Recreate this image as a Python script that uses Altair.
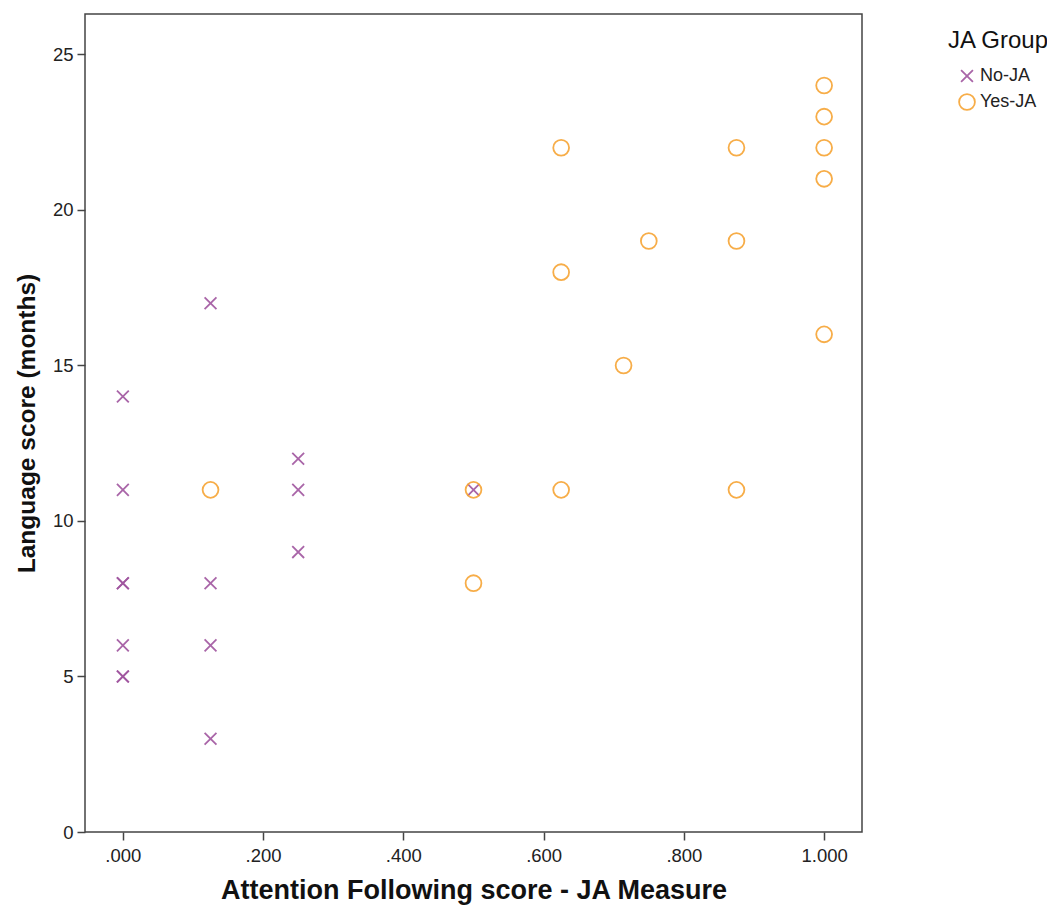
import altair as alt
import pandas as pd

no_x = [0, 0, 0, 0, 0, 0, 0, 0.125, 0.125, 0.125, 0.125, 0.25, 0.25, 0.25, 0.5]
no_y = [14, 11, 8, 8, 6, 5, 5, 17, 8, 6, 3, 12, 11, 9, 11]
yes_x = [0.125, 0.5, 0.5, 0.625, 0.625, 0.625, 0.714, 0.75, 0.875, 0.875, 0.875, 1, 1, 1, 1, 1]
yes_y = [11, 11, 8, 22, 18, 11, 15, 19, 22, 19, 11, 24, 23, 22, 21, 16]
groups = ["No-JA", "Yes-JA"]
colors = ["#a0559f", "#f7a535"]
x_ticks = [0, 0.2, 0.4, 0.6, 0.8, 1.0]
y_ticks = [0, 5, 10, 15, 20, 25]

df = pd.DataFrame({
    "x": no_x + yes_x,
    "y": no_y + yes_y,
    "g": [groups[0]] * len(no_x) + [groups[1]] * len(yes_x),
})

xpath = "M-1,-1L1,1M1,-1L-1,1"

chart = alt.Chart(df).mark_point(filled=False, strokeWidth=1.8, opacity=0.9).encode(
    x=alt.X("x:Q", title="Attention Following score - JA Measure",
            scale=alt.Scale(domain=[-0.054, 1.054], nice=False, zero=False),
            axis=alt.Axis(values=x_ticks, labelPadding=6, titleFontSize=27, titlePadding=13,
                          labelExpr="datum.value == 1 ? '1.000' : replace(format(datum.value, '.3f'), '0.', '.')")),
    y=alt.Y("y:Q", title="Language score (months)",
            scale=alt.Scale(domain=[0, 26.3], nice=False),
            axis=alt.Axis(values=y_ticks, titleFontSize=24.5, titlePadding=13)),
    color=alt.Color("g:N", scale=alt.Scale(domain=groups, range=colors),
                    legend=alt.Legend(title="JA Group", orient="none", legendX=863, legendY=15)),
    shape=alt.Shape("g:N", scale=alt.Scale(domain=groups, range=[xpath, "circle"])),
    size=alt.Size("g:N", scale=alt.Scale(domain=groups, range=[140, 250]), legend=None),
).properties(
    width=777, height=818,
    autosize=alt.AutoSizeParams(type="none"),
    padding={"left": 77, "top": 6, "right": 185, "bottom": 85},
).configure_view(
    stroke="#444444", strokeWidth=1.5
).configure_axis(
    grid=False, domain=False, tickColor="#444444", tickWidth=1.5, tickSize=8,
    labelFont="Liberation Sans", labelFontSize=18.5, labelColor="#222222", labelPadding=4,
    titleFont="Liberation Sans", titleFontWeight="bold", titleColor="#111111",
).configure_legend(
    titleFont="Liberation Sans", titleFontSize=24, titleFontWeight="normal", titleColor="#111111",
    labelFont="Liberation Sans", labelFontSize=18, labelColor="#222222", labelOffset=4,
    symbolSize=140, symbolStrokeWidth=1.8, rowPadding=4, titlePadding=14, symbolOffset=10,
)

chart.save("out.html", embed_options={"renderer": "svg", "actions": False})
